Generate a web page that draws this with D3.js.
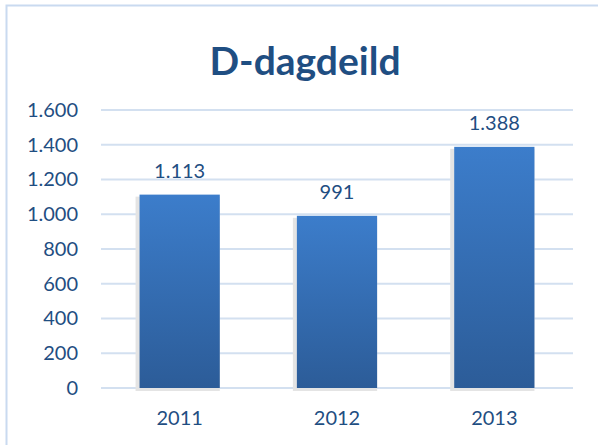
<!DOCTYPE html>
<html lang="is">
<head>
<meta charset="utf-8">
<title>D-dagdeild</title>
<script src="https://d3js.org/d3.v7.min.js"></script>
<style>
body { margin: 0; background: #fff; }
text { font-family: Lato, "Noto Sans", sans-serif; }
</style>
</head>
<body>
<div id="chart"></div>
<script>
// data
var years = ["2011", "2012", "2013"];
var values = [1113, 991, 1388];
var yTicks = [0, 200, 400, 600, 800, 1000, 1200, 1400, 1600];

var width = 598, height = 445;
var plotLeft = 101, plotRight = 573, plotTop = 110, plotBottom = 388;

var fmt = function (v) { return d3.format(",")(v).replace(/,/g, "."); };

var svg = d3.select("#chart").append("svg")
    .attr("width", width)
    .attr("height", height);

var defs = svg.append("defs");
var grad = defs.append("linearGradient")
    .attr("id", "barFill")
    .attr("x1", 0).attr("y1", 0).attr("x2", 0).attr("y2", 1);
grad.append("stop").attr("offset", "0%").attr("stop-color", "#3c7dcb");
grad.append("stop").attr("offset", "100%").attr("stop-color", "#2c5c98");

// chart border (runs off the right/bottom edge)
svg.append("rect")
    .attr("x", 6.5).attr("y", 5.5)
    .attr("width", 620).attr("height", 460)
    .attr("fill", "none")
    .attr("stroke", "#c9daf0")
    .attr("stroke-width", 2);

svg.append("text")
    .attr("x", 305).attr("y", 75)
    .attr("text-anchor", "middle")
    .attr("font-size", 39)
    .attr("font-weight", "bold")
    .attr("fill", "#1f4e82")
    .text("D-dagdeild");

var x = d3.scaleBand().domain(years).range([plotLeft, plotRight]).paddingInner(0.49).paddingOuter(0.245);
var y = d3.scaleLinear().domain([0, 1600]).range([plotBottom, plotTop]);

// gridlines
svg.append("g").selectAll("line").data(yTicks).join("line")
    .attr("x1", plotLeft).attr("x2", plotRight)
    .attr("y1", function (d) { return y(d); })
    .attr("y2", function (d) { return y(d); })
    .attr("stroke", "#d3e0f0")
    .attr("stroke-width", 2);

// y axis labels
var yAxis = d3.axisLeft(y).tickValues(yTicks).tickFormat(fmt).tickSize(0).tickPadding(0);
var ya = svg.append("g").attr("transform", "translate(78,0)").call(yAxis);
ya.select(".domain").remove();
ya.selectAll("text")
    .attr("font-size", 20)
    .attr("fill", "#1f4e82")
    .attr("font-family", "Lato, 'Noto Sans', sans-serif");

// bar shadows
svg.append("g").selectAll("rect").data(values).join("rect")
    .attr("x", function (d, i) { return x(years[i]) - 4; })
    .attr("y", function (d) { return y(d) + 2; })
    .attr("width", x.bandwidth() + 4)
    .attr("height", function (d) { return plotBottom - y(d) + 1; })
    .attr("fill", "#e4e4e4");

// bars
svg.append("g").selectAll("rect").data(values).join("rect")
    .attr("x", function (d, i) { return x(years[i]); })
    .attr("y", function (d) { return y(d); })
    .attr("width", x.bandwidth())
    .attr("height", function (d) { return plotBottom - y(d); })
    .attr("fill", "url(#barFill)");

// value labels
svg.append("g").selectAll("text").data(values).join("text")
    .attr("x", function (d, i) { return x(years[i]) + x.bandwidth() / 2; })
    .attr("y", function (d) { return y(d) - 17; })
    .attr("text-anchor", "middle")
    .attr("font-size", 20)
    .attr("fill", "#1f4e82")
    .text(fmt);

// x axis labels
var xAxis = d3.axisBottom(x).tickSize(0).tickPadding(0);
var xa = svg.append("g").attr("transform", "translate(0,425)").call(xAxis);
xa.select(".domain").remove();
xa.selectAll("text")
    .attr("dy", 0)
    .attr("font-size", 20)
    .attr("fill", "#1f4e82")
    .attr("font-family", "Lato, 'Noto Sans', sans-serif");
</script>
</body>
</html>
